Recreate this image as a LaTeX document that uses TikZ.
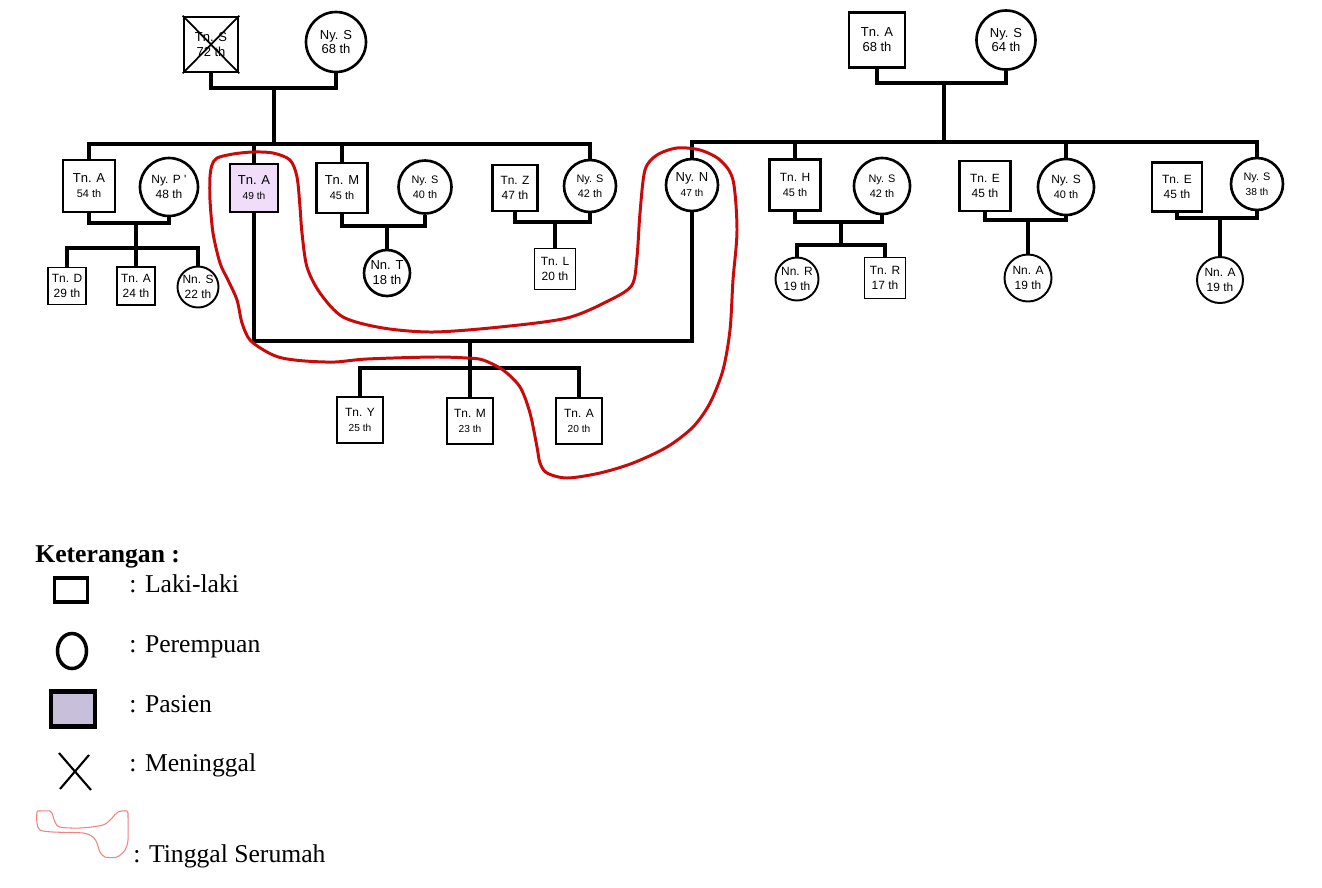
\documentclass[tikz,border=0pt]{standalone}
\usepackage{fontspec}
\setmainfont{Liberation Serif}
\newfontfamily\arialf{Liberation Sans}
\usetikzlibrary{shapes.geometric}
\definecolor{lilac}{RGB}{240,221,250}
\definecolor{pasienfill}{RGB}{200,192,218}
\definecolor{redline}{RGB}{200,10,10}
\definecolor{pinkline}{RGB}{240,130,130}
\newcommand{\fa}{\fontsize{7.4}{8.5}\selectfont}
\newcommand{\fb}{\fontsize{6.8}{8.5}\selectfont}
\newcommand{\fc}{\fontsize{6.2}{8.5}\selectfont}
\newcommand{\fd}{\fontsize{5.8}{8.5}\selectfont}
\newcommand{\fleg}{\fontsize{14.6}{17}\selectfont}
\tikzset{
  laki/.style 2 args={draw, line width=1.5pt, minimum width=#1*0.02cm, minimum height=#2*0.02cm, inner sep=0pt, align=center, font=\arialf\fb},
  pr/.style={draw, circle, line width=1.5pt, minimum size=#1*0.02cm, inner sep=0pt, align=center, font=\arialf\fb},
  garis/.style={line width=1.9pt},
  serumah/.style={redline, line width=1.7pt},
  legtext/.style={anchor=base west, inner sep=0pt, font=\fleg}
}
\begin{document}
\begin{tikzpicture}[x=0.02cm, y=-0.02cm]
\useasboundingbox (0,0) rectangle (1322,887);

% keluarga kiri
\node[laki={54}{55}] (tnS) at (211,44.5) {{\fa Tn. S}\\{\fa 72 th}};
\draw[line width=1pt] (tnS.north west) -- (tnS.south east) (tnS.north east) -- (tnS.south west);
\node[pr=60] (nyS) at (336,42) {{\fa Ny. S}\\{\fa 68 th}};
\coordinate (k1) at (274,88);
\coordinate (s1) at (274,144);
\draw[garis] (tnS.south) |- (k1) -| (nyS.south);
\draw[garis] (k1) -- (s1);

\node[laki={52}{52}] (tnAa) at (89,186) {{\fa Tn. A}\\{\fc 54 th}};
\node[pr=58] (nyP) at (169,187) {{\fb Ny. P '}\\{\fb 48 th}};
\node[laki={48}{48}, fill=lilac] (tnAp) at (254,188) {{\fa Tn. A}\\{\fd 49 th}};
\node[laki={51}{50}] (tnM) at (342,188) {{\fa Tn. M}\\{\fc 45 th}};
\node[pr=53] (nySa) at (425,187) {{\fc Ny. S}\\{\fc 40 th}};
\node[laki={45}{46}] (tnZ) at (515,188) {{\fb Tn. Z}\\{\fb 47 th}};
\node[pr=52] (nySb) at (590,186) {{\fc Ny. S}\\{\fc 42 th}};
\node[pr=52] (nyN) at (692,185) {{\fa Ny. N}\\{\fd 47 th}};
\draw[garis] (tnAa.north) |- (s1) -| (nySb.north);
\draw[garis] (tnAp.north) -- (tnAp.north |- s1);
\draw[garis] (tnM.north) -- (tnM.north |- s1);

\node[laki={38}{37}, line width=1.1pt] (tnD) at (67,286) {{\fb Tn. D}\\{\fb 29 th}};
\node[laki={38}{38}, line width=1.1pt] (tnAb) at (136,286) {{\fb Tn. A}\\{\fb 24 th}};
\node[pr=41, line width=1.1pt] (nnS) at (198,287) {{\fb Nn. S}\\{\fb 22 th}};
\coordinate (k2) at (136,223);
\coordinate (s2) at (136,248);
\draw[garis] (tnAa.south) |- (k2) -| (nyP.south);
\draw[garis] (k2) -- (s2);
\draw[garis] (tnD.north) |- (s2) -| (nnS.north);
\draw[garis] (tnAb.north) -- (tnAb.north |- s2);

\node[pr=46] (nnT) at (387,273) {{\fa Nn. T}\\{\fa 18 th}};
\coordinate (k3) at (387,226);
\draw[garis] (tnM.south) |- (k3) -| (nySa.south);
\draw[garis] (k3) -- (nnT.north);

\node[laki={41}{41}, line width=1.1pt] (tnL) at (555,269) {{\fb Tn. L}\\{\fb 20 th}};
\coordinate (k4) at (555,222);
\draw[garis] (tnZ.south) |- (k4) -| (nySb.south);
\draw[garis] (k4) -- (tnL.north);

\node[laki={46}{46}] (tnY) at (360,420) {{\fb Tn. Y}\\{\fd 25 th}};
\node[laki={46}{46}] (tnMb) at (470,421) {{\fb Tn. M}\\{\fd 23 th}};
\node[laki={46}{46}] (tnAc) at (579,421) {{\fb Tn. A}\\{\fd 20 th}};
\coordinate (k5) at (470,341);
\coordinate (s5) at (470,368);
\draw[garis] (tnAp.south) |- (k5) -| (nyN.south);
\draw[garis] (k5) -- (tnMb.north);
\draw[garis] (tnY.north) |- (s5) -| (tnAc.north);

% keluarga kanan
\node[laki={56}{55}] (tnAr) at (877,40) {{\fa Tn. A}\\{\fa 68 th}};
\node[pr=59] (nySr) at (1006,40) {{\fa Ny. S}\\{\fa 64 th}};
\coordinate (k6) at (944,83);
\coordinate (s6) at (944,142);
\draw[garis] (tnAr.south) |- (k6) -| (nySr.south);
\draw[garis] (k6) -- (s6);

\node[laki={51}{51}] (tnH) at (795,185) {{\fb Tn. H}\\{\fc 45 th}};
\node[pr=56] (nySc) at (882,186) {{\fc Ny. S}\\{\fc 42 th}};
\node[laki={51}{50}] (tnEa) at (985,186) {{\fb Tn. E}\\{\fb 45 th}};
\node[pr=56] (nySd) at (1066,187) {{\fb Ny. S}\\{\fc 40 th}};
\node[laki={50}{49}] (tnEb) at (1177,187) {{\fb Tn. E}\\{\fb 45 th}};
\node[pr=52] (nySe) at (1257,184) {{\fc Ny. S}\\{\fd 38 th}};
\draw[garis] (nyN.north) |- (s6) -| (nySe.north);
\draw[garis] (tnH.north) -- (tnH.north |- s6);
\draw[garis] (nySd.north) -- (nySd.north |- s6);

\node[pr=43, line width=1.1pt] (nnR) at (797,279) {{\fb Nn. R}\\{\fb 19 th}};
\node[laki={41}{41}, line width=1.1pt] (tnR) at (885,278) {{\fb Tn. R}\\{\fb 17 th}};
\coordinate (k7) at (841,222);
\coordinate (s7) at (841,245);
\draw[garis] (tnH.south) |- (k7) -| (nySc.south);
\draw[garis] (k7) -- (s7);
\draw[garis] (nnR.north) |- (s7) -| (tnR.north);

\node[pr=47, line width=1.1pt] (nnAa) at (1028,278) {{\fb Nn. A}\\{\fb 19 th}};
\coordinate (k8) at (1028,220);
\draw[garis] (tnEa.south) |- (k8) -| (nySd.south);
\draw[garis] (k8) -- (nnAa.north);

\node[pr=46, line width=1.1pt] (nnAb) at (1220,280) {{\fb Nn. A}\\{\fb 19 th}};
\coordinate (k9) at (1220,218);
\draw[garis] (tnEb.south) |- (k9) -| (nySe.south);
\draw[garis] (k9) -- (nnAb.north);

% tinggal serumah
\draw[serumah] plot[smooth cycle, tension=0.5] coordinates {
  (217,158) (233,154) (253,152) (273,153) (290,160) (297,177) (300,207) (302,233)
  (307,267) (320,293) (343,317) (383,328) (433,332) (500,327) (567,318) (610,300)
  (632,285) (637,257) (640,213) (645,170) (657,155) (677,148) (700,150) (720,160)
  (733,180) (737,230) (733,280) (730,330) (723,370) (710,403) (693,427) (667,447)
  (633,463) (600,473) (567,478) (547,473) (540,463) (537,447) (530,413) (520,387)
  (503,370) (483,360) (467,358) (433,357) (367,359) (335,362) (305,361) (282,358)
  (267,352) (250,340) (242,323) (237,300) (228,280) (220,263) (213,233) (210,200)
  (210,177) (212,165)};

% keterangan
\node[legtext, font=\fleg\bfseries] (ket) at (35,562) {Keterangan :};
\node[draw, line width=2.2pt, minimum width=33*0.02cm, minimum height=24*0.02cm, inner sep=0pt] (lgL) at (71,590) {};
\node[legtext] (tL) at (129,592) {: Laki-laki};
\node[draw, ellipse, line width=2pt, minimum width=29*0.02cm, minimum height=35*0.02cm, inner sep=0pt] (lgP) at (72,651) {};
\node[legtext] (tP) at (129,652) {: Perempuan};
\node[draw, fill=pasienfill, line width=2.6pt, minimum width=44*0.02cm, minimum height=35*0.02cm, inner sep=0pt] (lgS) at (73,709) {};
\node[legtext] (tS) at (129,712) {: Pasien};
\draw[line width=1.2pt] (59,753) -- (91,790) (60,789) -- (89,755);
\node[legtext] (tM) at (129,771) {: Meninggal};
\draw[pinkline, line width=0.6pt] plot[smooth cycle, tension=0.5] coordinates {
  (37,812) (40,811) (50,811) (52,813) (55,822) (60,827) (80,828) (103,825) (112,818)
  (118,812) (127,811) (128,817) (128,840) (125,850) (117,857) (105,857) (100,852)
  (97,843) (93,837) (83,833) (53,832) (40,830) (37,823)};
\node[legtext] (tT) at (133,862) {: Tinggal Serumah};
\end{tikzpicture}
\end{document}
